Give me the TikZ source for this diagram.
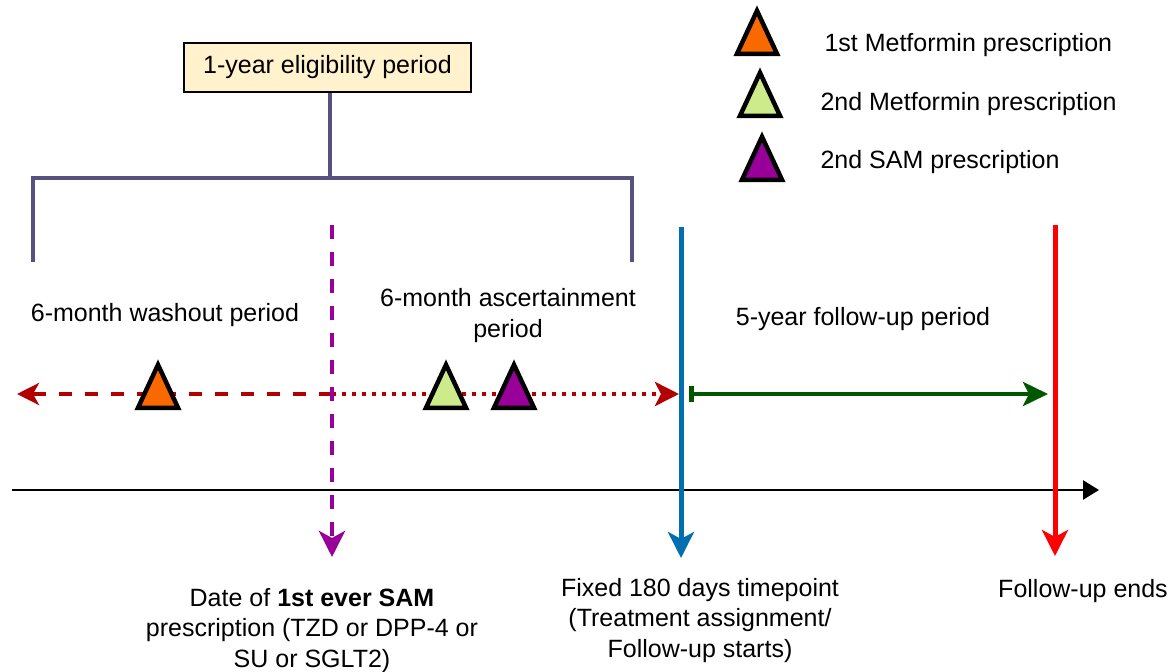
\documentclass[tikz,border=0pt]{standalone}
\usepackage{fontspec}
\setmainfont{Liberation Sans}
\usetikzlibrary{arrows.meta, positioning, shapes.geometric}
\definecolor{bracketcol}{HTML}{56517E}
\definecolor{boxfill}{HTML}{FFF2CC}
\definecolor{washred}{HTML}{B20000}
\definecolor{sampurple}{HTML}{990099}
\definecolor{fixblue}{HTML}{006EAF}
\definecolor{fugreen}{HTML}{005700}
\definecolor{endred}{HTML}{FF0000}
\definecolor{metorange}{HTML}{FA6800}
\definecolor{metgreen}{HTML}{CDEB8B}
\newcommand{\lbltxt}{\fontsize{25}{30.5}\selectfont}

\begin{document}
\begin{tikzpicture}[
  x=1pt, y=-1pt,
  every node/.style={font=\lbltxt},
  rx/.style={isosceles triangle, isosceles triangle stretches, shape border rotate=90,
    draw=black, line width=4.5pt, minimum width=40pt, minimum height=43pt, inner sep=0pt},
  head/.style={-{Stealth[length=26pt, width=26pt, inset=7pt]}}
]
  \useasboundingbox (0,0) rectangle (1176,672);

  % eligibility bracket
  \node[draw, fill=boxfill, line width=1.2pt, minimum width=287pt, minimum height=49pt,
    inner sep=0pt] (elig) at (327.5,67.5) {1-year eligibility period};
  \coordinate (bmid) at (330,178);
  \coordinate (bl) at (33,262);
  \coordinate (br) at (632,262);
  \draw[bracketcol, line width=4pt] (elig.south -| bmid) -- (bmid);
  \draw[bracketcol, line width=4pt] (bl) |- (bmid) -| (br);

  % period labels
  \node[anchor=base] (wash) at (165,321) {6-month washout period};
  \node[anchor=base, align=center] (asc) at (508,337) {6-month ascertainment\\period};
  \node[anchor=base] (fu) at (863,325) {5-year follow-up period};

  % time axis
  \coordinate (t0) at (12,490);
  \coordinate (t1) at (1099,490);
  \draw[line width=2.5pt, -{Triangle[length=16pt, width=19pt]}] (t0) -- (t1);

  % periods on the line
  \coordinate (idx) at (332,394);
  \coordinate (wl) at (17,394);
  \coordinate (fx) at (679,394);
  \coordinate (fs) at (689,394);
  \coordinate (fe) at (1048,394);
  \draw[washred, line width=4.5pt, dash pattern=on 13pt off 13pt,
    -{Stealth[length=22pt, width=22pt, inset=6pt]}] (idx) -- (wl);
  \draw[washred, line width=4.5pt, dash pattern=on 4pt off 6pt,
    -{Stealth[length=24pt, width=24pt, inset=6pt]}] (idx) -- (fx);
  \draw[fugreen, line width=4.5pt,
    {Bar[width=16pt]}-{Stealth[length=25pt, width=24pt, inset=6pt]}] (fs) -- (fe);

  % index date, day 180, end of follow-up
  \coordinate (sam0) at (332,225);
  \coordinate (sam1) at (332,557);
  \coordinate (fix0) at (681,227);
  \coordinate (fix1) at (681,558);
  \coordinate (end0) at (1055,225);
  \coordinate (end1) at (1055,556);
  \draw[sampurple, line width=4.5pt, dash pattern=on 14pt off 13pt, head] (sam0) -- (sam1);
  \draw[fixblue, line width=5pt, head] (fix0) -- (fix1);
  \draw[endred, line width=5pt, head] (end0) -- (end1);

  % prescriptions
  \node[rx, fill=metorange] (m1) at (158,395) {};
  \node[rx, fill=metgreen] (m2) at (446,395) {};
  \node[rx, fill=sampurple] (s2) at (514,395) {};

  % legend
  \foreach \n/\c/\x/\y/\tx/\by/\t in {1/metorange/757/41/821/51/1st Metformin prescription,
      2/metgreen/760/103/817/110/2nd Metformin prescription,
      3/sampurple/762/167/817/168/2nd SAM prescription} {
    \node[rx, fill=\c] (key\n) at (\x,\y) {};
    \node[anchor=base west] (keytxt\n) at (\tx,\by) {\t};
  }

  % bottom labels
  \node[anchor=base, align=center] (samlbl) at (312,667)
    {Date of \textbf{1st ever SAM}\\prescription (TZD or DPP-4 or\\SU or SGLT2)};
  \node[anchor=base, align=center] (fixlbl) at (700,657)
    {Fixed 180 days timepoint\\(Treatment assignment/\\Follow-up starts)};
  \node[anchor=base] (endlbl) at (1083,597) {Follow-up ends};
\end{tikzpicture}
\end{document}
